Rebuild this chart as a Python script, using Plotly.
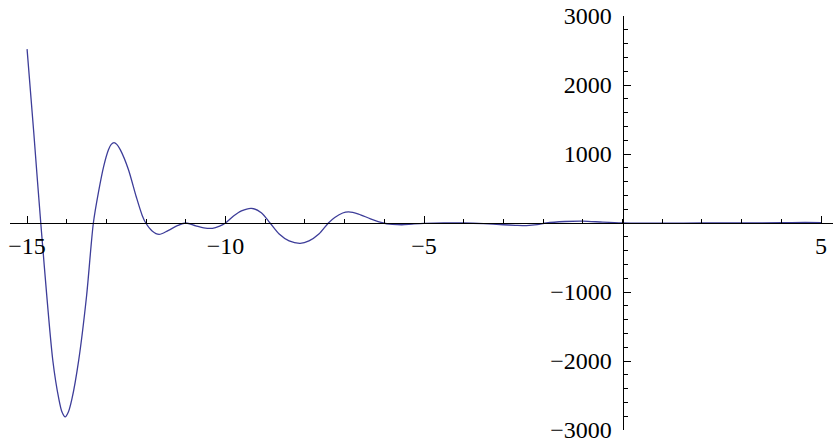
import plotly.graph_objects as go

# curve samples
x_vals = [-15.0, -14.83, -14.655, -14.35, -14.2, -14.12, -14.04, -13.96, -13.87, -13.7,
          -13.5, -13.33, -13.2, -13.07, -12.95, -12.88, -12.81, -12.74, -12.65, -12.45,
          -12.25, -12.1, -12.01, -11.85, -11.675, -11.45, -11.2, -11.0, -10.75, -10.55,
          -10.33, -10.15, -10.0, -9.8, -9.6, -9.35, -9.1, -8.88, -8.65, -8.4,
          -8.12, -7.9, -7.65, -7.41, -7.25, -7.05, -6.9, -6.65, -6.35, -6.03,
          -5.8, -5.56, -5.3, -5.0, -4.5, -4.0, -3.5, -3.0, -2.7, -2.42,
          -2.15, -1.92, -1.45, -1.0, -0.5, 0.0, 0.5, 1.0, 2.0, 3.0,
          4.0, 4.6, 5.0]
y_vals = [2520, 1300, 0, -2000, -2550, -2740, -2810, -2740, -2550, -1990,
          -1050, 0, 450, 820, 1060, 1140, 1165, 1140, 1060, 780,
          380, 110, 0, -115, -165, -110, -35, 0, -40, -70,
          -77, -45, 0, 100, 175, 213, 150, 0, -160, -260,
          -295, -260, -160, 0, 80, 145, 160, 130, 60, 0,
          -18, -25, -15, -5, 3, 0, -10, -25, -33, -38,
          -25, 0, 22, 28, 12, 0, -3, -2, 0, 0,
          5, 8, 5]

x_tick_vals = [-15, -10, -5, 5]
x_tick_text = ["\u221215", "\u221210", "\u22125", "5"]
y_tick_vals = [-3000, -2000, -1000, 1000, 2000, 3000]
y_tick_text = ["\u22123000", "\u22122000", "\u22121000", "1000", "2000", "3000"]

x_range = [-15.43, 5.3]
y_range = [-3000, 3000]

fig = go.Figure()
fig.add_trace(go.Scatter(x=x_vals, y=y_vals, mode="lines",
                         line=dict(color="#3d3d99", width=1.3, shape="spline", smoothing=0.8),
                         hoverinfo="skip", cliponaxis=False))

font = dict(family="Liberation Serif, Times New Roman, serif", size=24, color="black")

fig.update_layout(
    width=833, height=441,
    margin=dict(l=10, r=0, t=16, b=11, autoexpand=False),
    paper_bgcolor="white", plot_bgcolor="white",
    showlegend=False,
    xaxis=dict(range=x_range, showgrid=False, zeroline=False, automargin=False,
               anchor="free", position=0.5,
               showline=True, linecolor="black", linewidth=1,
               tickmode="array", tickvals=x_tick_vals, ticktext=x_tick_text,
               ticks="inside", ticklen=7, tickcolor="black", tickwidth=1,
               ticklabelstandoff=1, ticklabeloverflow="allow",
               tickfont=font,
               minor=dict(tickmode="linear", tick0=0, dtick=1, ticks="inside",
                          ticklen=4, tickcolor="black", tickwidth=1)),
    yaxis=dict(range=y_range, showgrid=False, zeroline=False, automargin=False,
               anchor="free", position=(0 - x_range[0]) / (x_range[1] - x_range[0]),
               showline=True, linecolor="black", linewidth=1,
               tickmode="array", tickvals=y_tick_vals, ticktext=y_tick_text,
               ticks="inside", ticklen=7, tickcolor="black", tickwidth=1,
               ticklabelstandoff=6, ticklabeloverflow="allow",
               tickfont=font,
               minor=dict(tickmode="linear", tick0=0, dtick=200, ticks="inside",
                          ticklen=4, tickcolor="black", tickwidth=1)),
)

fig.write_html("out.html", config={"displayModeBar": False},
               post_script="document.body.style.margin='0';document.body.style.padding='0';")
